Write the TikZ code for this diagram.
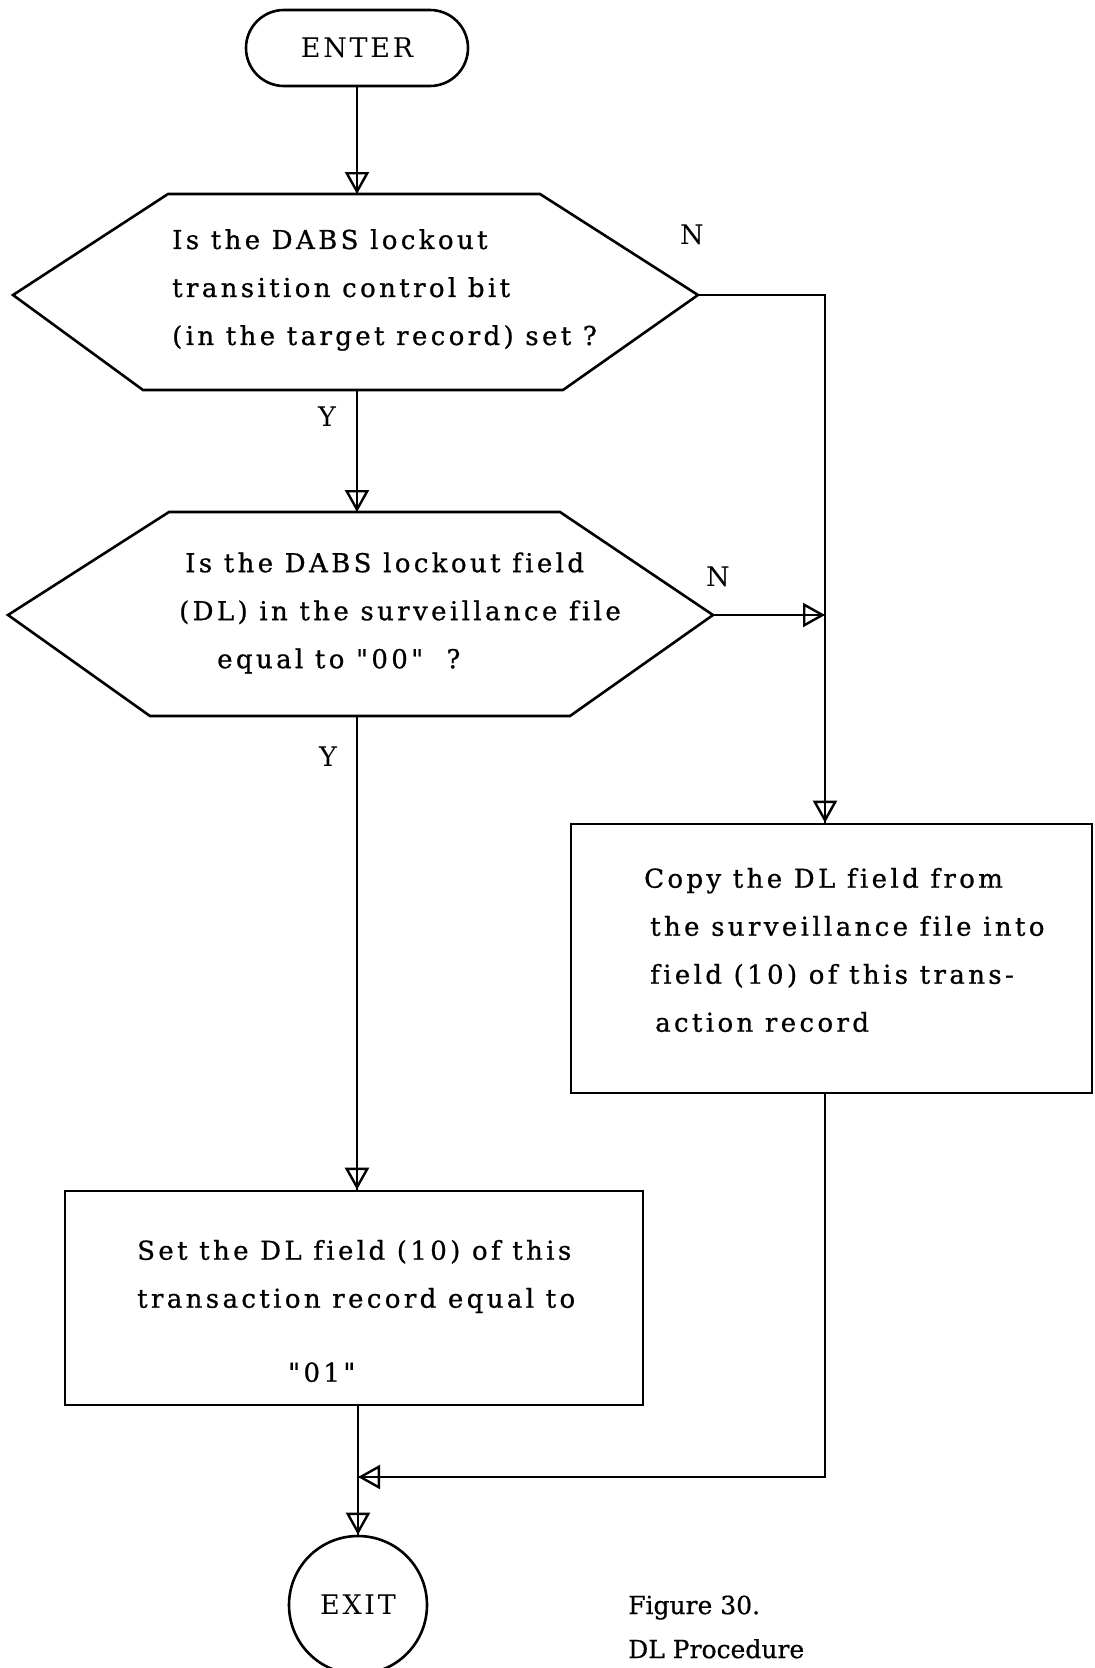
\documentclass[tikz,border=0pt]{standalone}
\usepackage{fontspec}
\setmainfont{DejaVu Serif}[LetterSpace=13, Ligatures={TeXOff,CommonOff}, FakeBold=0.8]
\newfontfamily\lblfont{DejaVu Serif}[LetterSpace=10, Ligatures={TeXOff,CommonOff}]
\newfontfamily\capfont{DejaVu Serif}[LetterSpace=0, Ligatures={TeXOff,CommonOff}, FakeBold=0.6]
\usetikzlibrary{arrows.meta,shapes.misc}
\tikzset{
  shapeline/.style={draw=black, line width=2.6pt},
  flow/.style={line width=2.4pt, postaction={draw,-{Triangle[open,width=24pt,length=22pt]}}},
  body/.style={font=\fontsize{26}{48}\selectfont, inner sep=0pt, align=left, anchor=west},
  lbl/.style={font=\lblfont\fontsize{27}{27}\selectfont, inner sep=0pt},
}
\begin{document}
\begin{tikzpicture}[x=1pt,y=-1pt]
\fill[white] (0,0) rectangle (1095,1668);
\useasboundingbox (0,0) rectangle (1095,1668);

% ENTER terminator
\node[shapeline, rounded rectangle, minimum width=222pt, minimum height=76pt, lbl] (enter) at (357,48) {ENTER};

% decision 1
\coordinate (h1a) at (168,194);
\coordinate (h1b) at (540,194);
\coordinate (h1r) at (698,295);
\coordinate (h1c) at (563,390);
\coordinate (h1d) at (143,390);
\coordinate (h1l) at (13,295);
\coordinate (h1top) at (357,194);
\coordinate (h1bot) at (357,390);
\draw[shapeline] (h1a) -- (h1b) -- (h1r) -- (h1c) -- (h1d) -- (h1l) -- cycle;
\node[body] (q1) at (172,290) {Is the DABS lockout\\transition control bit\\(in the target record) set ?};

% decision 2
\coordinate (h2a) at (169,512);
\coordinate (h2b) at (560,512);
\coordinate (h2r) at (713,615);
\coordinate (h2c) at (570,716);
\coordinate (h2d) at (150,716);
\coordinate (h2l) at (8,615);
\coordinate (h2top) at (357,512);
\coordinate (h2bot) at (357,716);
\draw[shapeline] (h2a) -- (h2b) -- (h2r) -- (h2c) -- (h2d) -- (h2l) -- cycle;
\node[body] (q2) at (185,613) {Is the DABS lockout field\\\hspace*{-6pt}(DL) in the surveillance file\\\hspace*{32pt}equal to "00"\ \ ?};

% copy box
\node[shapeline, rectangle, minimum width=521pt, minimum height=269pt] (copy) at (831.5,958.5) {};
\node[body] (copytext) at (644,950) {Copy the DL field from\\\hspace*{6pt}the surveillance file into\\\hspace*{6pt}field (10) of this trans-\\\hspace*{11pt}action record};

% set box
\node[shapeline, rectangle, minimum width=578pt, minimum height=214pt] (set) at (354,1298) {};
\node[body] (settext) at (137,1311) {Set the DL field (10) of this\\transaction record equal to\\[26pt]\hspace*{151pt}"01"};

% exit
\node[shapeline, circle, minimum size=138pt, lbl] (exit) at (358,1605) {EXIT};

% caption
\node[body, font=\capfont\fontsize{25}{44}\selectfont] (cap) at (628,1627) {Figure 30.\\DL Procedure};

% labels
\node[lbl] (n1) at (692,235) {N};
\node[lbl] (n2) at (718,577) {N};
\node[lbl] (y1) at (327,417) {Y};
\node[lbl] (y2) at (328,757) {Y};

% connectors
\coordinate (cR) at (825,295);
\coordinate (m) at (358,1477);
\draw[flow] (enter.south) -- (h1top);
\draw[flow] (h1bot) -- (h2top);
\draw[flow] (h1r) -- (cR) -- (cR |- copy.north);
\draw[flow] (h2r) -- (h2r -| cR);
\draw[flow] (h2bot) -- (h2bot |- set.north);
\draw[flow] (m |- set.south) -- (exit.north);
\draw[flow] (cR |- copy.south) -- (cR |- m) -- (m);
\end{tikzpicture}
\end{document}
